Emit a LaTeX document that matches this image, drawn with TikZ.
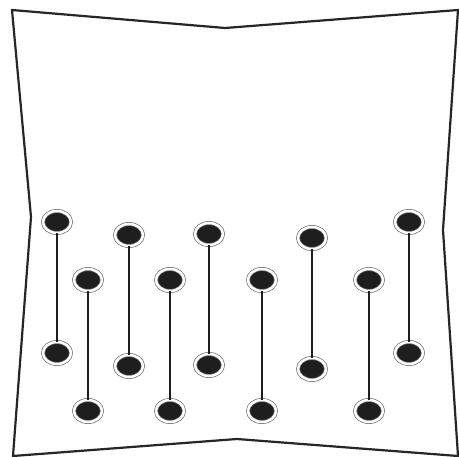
\documentclass[tikz,border=0pt]{standalone}
\usetikzlibrary{shapes.geometric}
\definecolor{ringgray}{HTML}{707070}
\definecolor{beadblack}{HTML}{1E1E1E}

\begin{document}
\begin{tikzpicture}[
    x=1pt, y=-1pt,
    bead/.style={
        ellipse, draw=ringgray, line width=0.7pt,
        double=white, double distance=2.5pt, fill=beadblack,
        minimum width=28pt, minimum height=22pt, inner sep=0pt
    },
    rod/.style={line width=2pt, color=beadblack},
    frame/.style={line width=2.2pt, color=black!85, line join=miter}
]
\useasboundingbox (0,0) rectangle (459,457);

% Outline
\coordinate (tl) at (12,10);
\coordinate (tm) at (225,28);
\coordinate (tr) at (458,10);
\coordinate (rm) at (443,230);
\coordinate (br) at (458,456);
\coordinate (bm) at (237,439);
\coordinate (bl) at (13,456);
\coordinate (lm) at (31,217);
\draw[frame] (tl) -- (tm) -- (tr) -- (rm) -- (br) -- (bm) -- (bl) -- (lm) -- cycle;

% Beads
\node[bead] (a1) at (57,222) {};
\node[bead] (a2) at (57,353) {};
\node[bead] (b1) at (88,280) {};
\node[bead] (b2) at (88,411) {};
\node[bead] (c1) at (129,235) {};
\node[bead] (c2) at (129,366) {};
\node[bead] (d1) at (170,280) {};
\node[bead] (d2) at (170,411) {};
\node[bead] (e1) at (209,234) {};
\node[bead] (e2) at (209,365) {};
\node[bead] (f1) at (262,280) {};
\node[bead] (f2) at (262,411) {};
\node[bead] (g1) at (312,238) {};
\node[bead] (g2) at (312,369) {};
\node[bead] (h1) at (369,280) {};
\node[bead] (h2) at (369,411) {};
\node[bead] (i1) at (409,222) {};
\node[bead] (i2) at (409,353) {};

% Rods
\draw[rod] (a1) -- (a2);
\draw[rod] (b1) -- (b2);
\draw[rod] (c1) -- (c2);
\draw[rod] (d1) -- (d2);
\draw[rod] (e1) -- (e2);
\draw[rod] (f1) -- (f2);
\draw[rod] (g1) -- (g2);
\draw[rod] (h1) -- (h2);
\draw[rod] (i1) -- (i2);

\end{tikzpicture}
\end{document}
